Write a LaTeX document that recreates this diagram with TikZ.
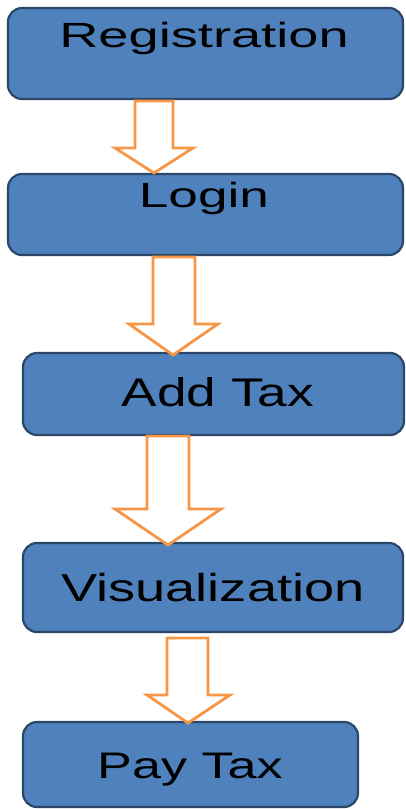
\documentclass[tikz,border=0pt]{standalone}
\usepackage{fontspec}
\setmainfont{Liberation Sans}
\definecolor{boxblue}{HTML}{4F81BD}
\definecolor{boxedge}{HTML}{2A4768}
\definecolor{arroworange}{HTML}{F79646}
\newcommand{\lbl}[3]{\scalebox{#2}[1]{\fontsize{#1}{#1}\selectfont #3}}
\tikzset{
  stagebox/.style={draw=boxedge, fill=boxblue, line width=2.2pt, rounded corners=14pt},
  flowarrow/.style={draw=arroworange, fill=white, line width=2.8pt, line join=miter},
  stagetext/.style={anchor=base, inner sep=0pt, text=black}
}
\newcommand{\blockarrow}[8]{%
  \draw[flowarrow] (#1,#3) -- (#2,#3) -- (#2,#6) -- (#5,#6) -- (#7,#8) -- (#4,#6) -- (#1,#6) -- cycle;}
\begin{document}
\begin{tikzpicture}[x=1pt,y=-1pt]
\useasboundingbox (0,0) rectangle (406,809);
% boxes
\draw[stagebox] (8,8) rectangle (403,99) coordinate (regbox);
\draw[stagebox] (8,174) rectangle (403,255) coordinate (loginbox);
\draw[stagebox] (23,353) rectangle (404,435) coordinate (addbox);
\draw[stagebox] (23,543) rectangle (403,632) coordinate (visbox);
\draw[stagebox] (23,722) rectangle (358,807) coordinate (paybox);
% labels
\node[stagetext] (reg) at (204,47) {\lbl{35}{1.55}{Registration}};
\node[stagetext] (login) at (204,207) {\lbl{35}{1.52}{Login}};
\node[stagetext] (addtax) at (218,406) {\lbl{40}{1.33}{Add Tax}};
\node[stagetext] (vis) at (213,601) {\lbl{39}{1.39}{Visualization}};
\node[stagetext] (pay) at (190,778) {\lbl{37}{1.41}{Pay Tax}};
% block arrows
\blockarrow{135}{173}{101}{115}{193}{148}{154}{173}
\blockarrow{153}{195}{257}{129}{218}{324}{173}{355}
\blockarrow{147}{189}{436}{115}{221}{509}{168}{545}
\blockarrow{167}{208}{638}{147}{230}{695}{188}{723}
\end{tikzpicture}
\end{document}
